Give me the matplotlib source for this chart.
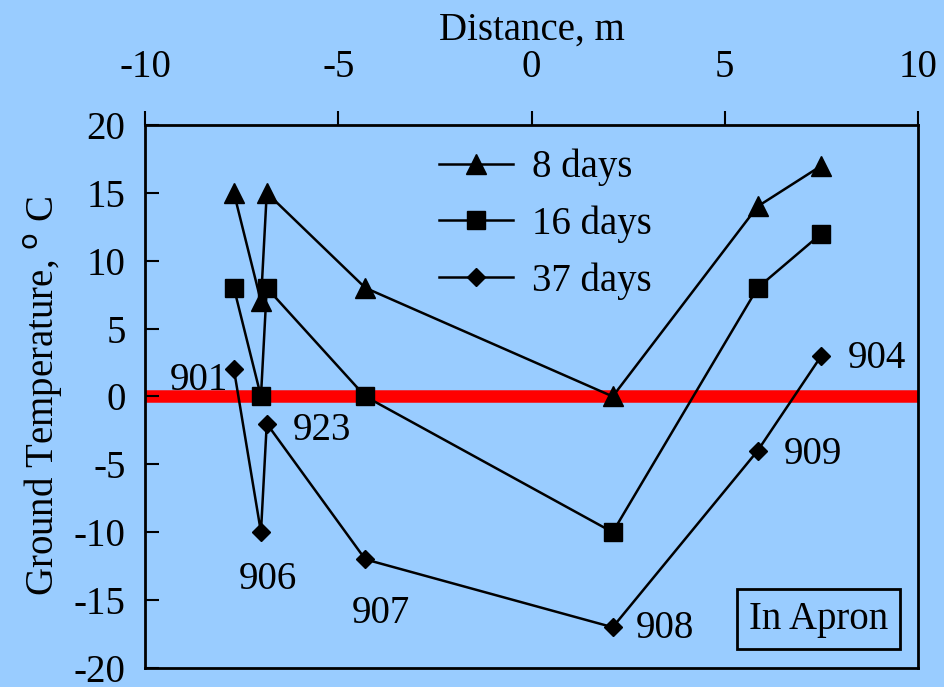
import matplotlib
matplotlib.use("Agg")
import matplotlib.pyplot as plt

plt.rcParams['font.family'] = ['Liberation Serif', 'DejaVu Serif']
plt.rcParams['axes.unicode_minus'] = False

distance = [-7.7, -7.0, -6.85, -4.3, 2.1, 5.85, 7.5]
wells = ["901", "906", "923", "907", "908", "909", "904"]
temp_8 = [15, 7, 15, 8, 0, 14, 17]
temp_16 = [8, 0, 8, 0, -10, 8, 12]
temp_37 = [2, -10, -2, -12, -17, -4, 3]
label_x = [-8.6, -6.83, -5.43, -3.9, 3.45, 7.27, 8.94]
label_y = [1.2, -13.5, -2.5, -16.0, -17.1, -4.3, 2.8]

bg = '#99CCFF'
fs = 28

fig = plt.figure(figsize=(9.44, 6.87), dpi=100, facecolor=bg)
ax = fig.add_axes([0.1536, 0.0277, 0.8189, 0.7904])
ax.set_facecolor(bg)

ax.axhline(0, color='#FF0000', lw=9, zorder=1)

lw = 1.8
ax.plot(distance, temp_8, '-^', color='black', lw=lw, ms=15, label='8 days', zorder=3)
ax.plot(distance, temp_16, '-s', color='black', lw=lw, ms=13, label='16 days', zorder=3)
ax.plot(distance, temp_37, '-D', color='black', lw=lw, ms=9, label='37 days', zorder=3)

for w, lx, ly in zip(wells, label_x, label_y):
    ax.text(lx, ly, w, fontsize=fs, ha='center', va='center', zorder=4)

ax.set_xlim(-10, 10)
ax.set_ylim(-20, 20)
ax.set_xticks([-10, -5, 0, 5, 10])
ax.set_yticks(range(-20, 21, 5))
ax.xaxis.tick_top()
ax.xaxis.set_label_position('top')
ax.tick_params(axis='x', direction='out', length=10, width=1.5, labelsize=fs, pad=18)
ax.tick_params(axis='y', direction='in', length=10, width=1.5, labelsize=fs, pad=14, right=False)
for s in ax.spines.values():
    s.set_linewidth(2)

ax.set_xlabel('Distance, m', fontsize=fs, labelpad=7)
ax.set_ylabel(r'Ground Temperature, $^{\rm o}$ C', fontsize=fs, labelpad=6)

leg = ax.legend(loc='upper left', bbox_to_anchor=(0.36, 0.985), frameon=False,
                fontsize=fs, handlelength=1.9, handletextpad=0.5, labelspacing=0.5,
                borderaxespad=0)

ax.text(0.871, 0.09, 'In Apron', transform=ax.transAxes, fontsize=fs,
        ha='center', va='center',
        bbox=dict(boxstyle='square,pad=0.3', facecolor=bg, edgecolor='black', lw=2))

fig.savefig('out.png', dpi=100, facecolor=bg)
